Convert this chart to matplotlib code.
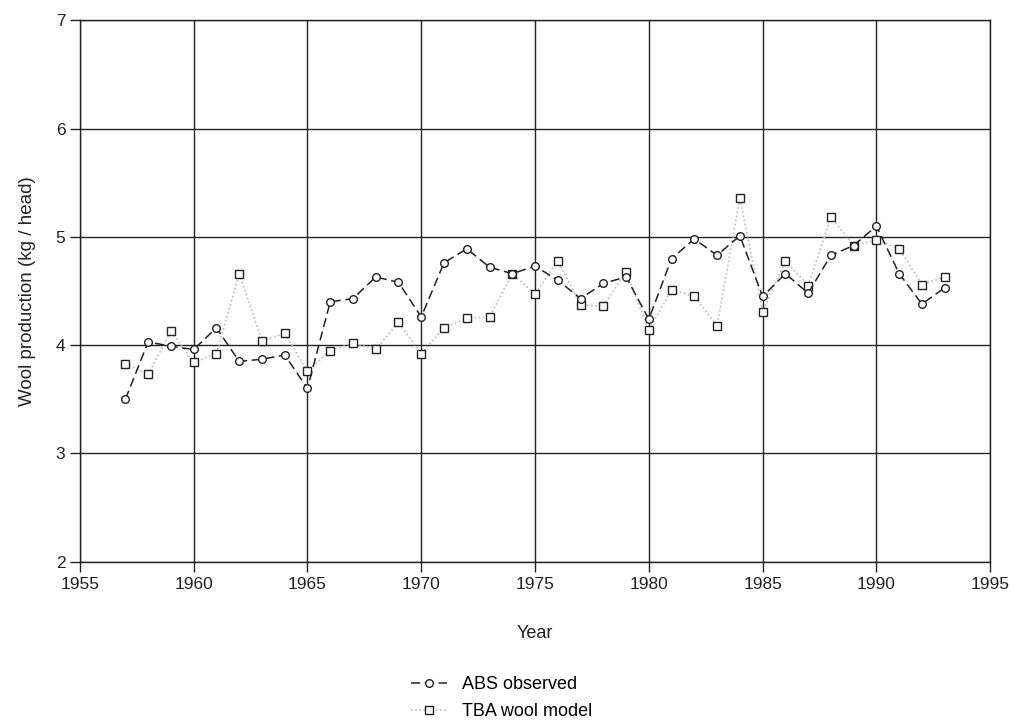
import matplotlib
matplotlib.use("Agg")
import matplotlib.pyplot as plt

plt.rcParams['font.family'] = ['Liberation Sans', 'DejaVu Sans']

years = list(range(1957, 1994))
abs_observed = [3.50, 4.03, 3.99, 3.96, 4.16, 3.85, 3.87, 3.91, 3.60, 4.40,
                4.43, 4.63, 4.58, 4.26, 4.76, 4.89, 4.72, 4.66, 4.73, 4.60,
                4.43, 4.57, 4.63, 4.24, 4.80, 4.98, 4.83, 5.01, 4.45, 4.66,
                4.48, 4.83, 4.92, 5.10, 4.66, 4.38, 4.53]
tba_model = [3.83, 3.73, 4.13, 3.84, 3.92, 4.66, 4.04, 4.11, 3.76, 3.95,
             4.02, 3.96, 4.21, 3.92, 4.16, 4.25, 4.26, 4.66, 4.47, 4.78,
             4.37, 4.36, 4.68, 4.14, 4.51, 4.45, 4.18, 5.36, 4.31, 4.78,
             4.55, 5.18, 4.92, 4.97, 4.89, 4.56, 4.63]

x_ticks = list(range(1955, 2000, 5))
y_ticks = [2, 3, 4, 5, 6, 7]

fig = plt.figure(figsize=(10.24, 7.23), dpi=100)
ax = fig.add_axes([0.078, 0.223, 0.889, 0.749])

ax.plot(years, abs_observed, linestyle=(0, (6, 3)), color='#222222', linewidth=1.1,
        marker='o', markersize=5.5, markerfacecolor='white', markeredgecolor='#222222',
        markeredgewidth=1.0, label='ABS observed', zorder=3)
ax.plot(years, tba_model, linestyle=(0, (1, 1.5)), color='#bbbbbb', linewidth=1.2,
        marker='s', markersize=5.5, markerfacecolor='white', markeredgecolor='#222222',
        markeredgewidth=1.0, label='TBA wool model', zorder=2)

ax.set_xlim(1955, 1995)
ax.set_ylim(2, 7)
ax.set_xticks(x_ticks)
ax.set_yticks(y_ticks)
ax.grid(True, color='#222222', linewidth=1.0)
ax.set_axisbelow(True)
for s in ax.spines.values():
    s.set_color('#222222')
    s.set_linewidth(1.0)
ax.tick_params(axis='both', length=7, width=1.0, color='#222222', labelsize=12.5,
               labelcolor='#222222')
ax.tick_params(axis='x', pad=4)

ax.set_xlabel('Year', fontsize=13, color='#222222', labelpad=24)
ax.set_ylabel('Wool production (kg / head)', fontsize=13.5, color='#222222', labelpad=14)

fig.legend(loc='center', bbox_to_anchor=(0.49, 0.034), frameon=False, fontsize=13,
           handlelength=2.0, labelspacing=0.55, handletextpad=0.8)

fig.savefig('out.png', dpi=100)
